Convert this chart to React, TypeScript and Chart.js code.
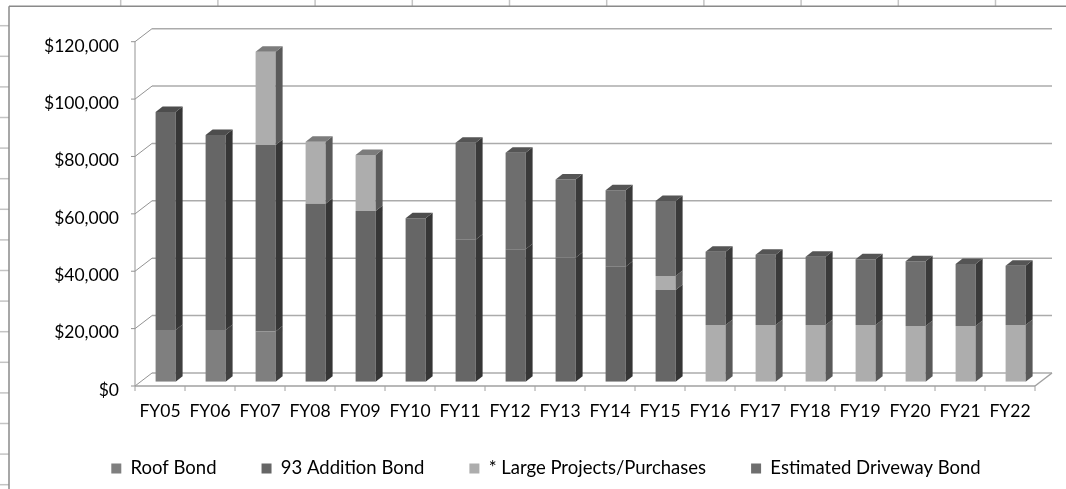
import React, { useEffect, useRef } from 'react';
import { Chart, registerables } from 'chart.js';

Chart.register(...registerables);

// ---------- data ----------
const categories = ['FY05', 'FY06', 'FY07', 'FY08', 'FY09', 'FY10', 'FY11', 'FY12', 'FY13', 'FY14', 'FY15', 'FY16', 'FY17', 'FY18', 'FY19', 'FY20', 'FY21', 'FY22'];
const seriesNames = ['Roof Bond', '93 Addition Bond', '* Large Projects/Purchases', 'Estimated Driveway Bond'];
const roofBond = [18000, 18000, 17500, 0, 0, 0, 0, 0, 0, 0, 0, 0, 0, 0, 0, 0, 0, 0];
const addition93Bond = [76000, 68000, 65000, 62000, 59500, 57000, 49500, 46200, 43200, 40100, 32000, 0, 0, 0, 0, 0, 0, 0];
const largeProjects = [0, 0, 32500, 21600, 19500, 0, 0, 0, 0, 0, 4800, 19800, 19800, 19800, 19800, 19400, 19400, 19800];
const drivewayBond = [0, 0, 0, 0, 0, 0, 33800, 33600, 27300, 26600, 26200, 25500, 24450, 23750, 22850, 22550, 21600, 20600];
const yTicks = [0, 20000, 40000, 60000, 80000, 100000, 120000];

// ---------- styles ----------
const FONT = 'Lato';
const frontColors = ['#7f7f7f', '#666666', '#adadad', '#6e6e6e'];
const sideColors = ['#404040', '#363636', '#5a5a5a', '#3a3a3a'];
const topColors = ['#5c5c5c', '#4d4d4d', '#7c7c7c', '#555555'];

// 3D offsets relative to the bar plane
const FRONT_DX = -5.6;
const FRONT_DY = 4.3;
const BACK_DX = 11.4;
const BACK_DY = -8.7;
const BAR_DX = 7;
const BAR_DY = 5.5;

const seriesValues = [roofBond, addition93Bond, largeProjects, drivewayBond];

function line(ctx: CanvasRenderingContext2D, x1: number, y1: number, x2: number, y2: number) {
  ctx.beginPath();
  ctx.moveTo(x1, y1);
  ctx.lineTo(x2, y2);
  ctx.stroke();
}

function poly(ctx: CanvasRenderingContext2D, pts: number[][]) {
  ctx.beginPath();
  ctx.moveTo(pts[0][0], pts[0][1]);
  for (let i = 1; i < pts.length; i++) ctx.lineTo(pts[i][0], pts[i][1]);
  ctx.closePath();
  ctx.fill();
}

const legendPlacePlugin = {
  id: 'legendPlace',
  afterLayout(chart: any) {
    const lg = chart.legend;
    if (!lg) return;
    lg.left = 51.4;
    lg.top = 414.25;
    lg.bottom = chart.height;
    lg.height = lg.bottom - lg.top;
    lg.width = lg.right - lg.left;
  },
};

const sheetPlugin = {
  id: 'sheetBackground',
  beforeDraw(chart: any) {
    const ctx: CanvasRenderingContext2D = chart.ctx;
    const w = chart.width;
    const h = chart.height;
    ctx.save();
    ctx.fillStyle = '#ffffff';
    ctx.fillRect(0, 0, w, h);
    ctx.strokeStyle = '#c4c4c4';
    ctx.lineWidth = 1.5;
    for (let x = 120.7; x < w; x += 97.2) line(ctx, x, 0, x, 6);
    for (let y = 25.7; y < h; y += 30.6) line(ctx, 0, y, 9, y);
    ctx.strokeStyle = '#8a8a8a';
    ctx.lineWidth = 1.5;
    line(ctx, 9, 6.3, w, 6.3);
    line(ctx, 9, 6.3, 9, h);
    ctx.restore();
  },
};

const wallsPlugin = {
  id: 'walls3d',
  beforeDatasetsDraw(chart: any) {
    const ctx: CanvasRenderingContext2D = chart.ctx;
    const ys = chart.scales.y;
    const xs = chart.scales.x;
    const { left, right } = chart.chartArea;
    ctx.save();
    ctx.strokeStyle = '#ababab';
    ctx.lineWidth = 1.5;
    yTicks.forEach((v) => {
      const y = ys.getPixelForValue(v);
      line(ctx, left + BACK_DX, y + BACK_DY, right + BACK_DX, y + BACK_DY);
    });
    ctx.strokeStyle = '#939393';
    ctx.lineWidth = 1;
    yTicks.forEach((v) => {
      const y = ys.getPixelForValue(v);
      line(ctx, left + FRONT_DX, y + FRONT_DY, left + BACK_DX, y + BACK_DY);
      line(ctx, left + FRONT_DX - 4, y + FRONT_DY, left + FRONT_DX, y + FRONT_DY);
    });
    const yTop = ys.getPixelForValue(yTicks[yTicks.length - 1]);
    const y0 = ys.getPixelForValue(0);
    line(ctx, left + FRONT_DX, yTop + FRONT_DY, left + FRONT_DX, y0 + FRONT_DY);
    ctx.strokeStyle = '#a0a0a0';
    ctx.lineWidth = 1.5;
    line(ctx, left + FRONT_DX, y0 + FRONT_DY, right + FRONT_DX, y0 + FRONT_DY);
    line(ctx, right + FRONT_DX, y0 + FRONT_DY, right + BACK_DX, y0 + BACK_DY);
    ctx.lineWidth = 1;
    const step = xs.getPixelForValue(1) - xs.getPixelForValue(0);
    for (let i = 0; i <= categories.length; i++) {
      const x = xs.getPixelForValue(0) - step / 2 + i * step + FRONT_DX;
      line(ctx, x, y0 + FRONT_DY, x, y0 + FRONT_DY + 5);
    }
    ctx.restore();
  },
};

const barsPlugin = {
  id: 'bars3d',
  afterDatasetsDraw(chart: any) {
    const ctx: CanvasRenderingContext2D = chart.ctx;
    ctx.save();
    categories.forEach((_, i) => {
      let topDs = -1;
      seriesValues.forEach((vals, d) => {
        if (vals[i] > 0) topDs = d;
      });
      seriesValues.forEach((vals, d) => {
        if (!(vals[i] > 0)) return;
        const el = chart.getDatasetMeta(d).data[i];
        const { x, y, base, width } = el.getProps(['x', 'y', 'base', 'width'], true);
        const l = x - width / 2;
        const r = x + width / 2;
        ctx.fillStyle = sideColors[d];
        poly(ctx, [[r, y], [r + BAR_DX, y - BAR_DY], [r + BAR_DX, base - BAR_DY], [r, base]]);
        if (d === topDs) {
          ctx.fillStyle = topColors[d];
          poly(ctx, [[l, y], [l + BAR_DX, y - BAR_DY], [r + BAR_DX, y - BAR_DY], [r, y]]);
        }
      });
    });
    ctx.restore();
  },
};

export default function App() {
  const canvasRef = useRef<HTMLCanvasElement | null>(null);

  useEffect(() => {
    if (!canvasRef.current) return;
    const chart = new Chart(canvasRef.current, {
      type: 'bar',
      data: {
        labels: categories,
        datasets: seriesValues.map((vals, d) => ({
          label: seriesNames[d],
          data: vals,
          backgroundColor: frontColors[d],
          borderWidth: 0,
          categoryPercentage: 1,
          barPercentage: 0.4,
        })),
      },
      options: {
        animation: false,
        responsive: false,
        layout: { padding: { left: 0, right: 25.4, top: 37.4, bottom: 13.3 } },
        plugins: {
          tooltip: { enabled: false },
          legend: {
            position: 'bottom',
            maxHeight: 50,
            labels: {
              boxWidth: 10,
              boxHeight: 10,
              padding: 45,
              color: '#000',
              font: { family: FONT, size: 18.5 },
            },
          },
        },
        scales: {
          x: {
            stacked: true,
            grid: { display: false, drawTicks: false },
            border: { display: false },
            ticks: {
              color: '#000',
              font: { family: FONT, size: 17.5 },
              padding: 18.8,
              labelOffset: FRONT_DX,
              maxRotation: 0,
              autoSkip: false,
            },
            afterFit: (s: any) => {
              s.height = 44;
            },
          },
          y: {
            stacked: true,
            min: 0,
            max: 120000,
            grid: { display: false, drawTicks: false },
            border: { display: false },
            afterBuildTicks: (s: any) => {
              s.ticks = yTicks.map((v) => ({ value: v }));
            },
            ticks: {
              color: '#000',
              font: { family: FONT, size: 17.5 },
              padding: 21.6,
              labelOffset: 8.5,
              callback: (v: any) => '$' + Number(v).toLocaleString('en-US'),
            },
            afterFit: (s: any) => {
              s.width = 140.6;
            },
          },
        },
      },
      plugins: [legendPlacePlugin, sheetPlugin, wallsPlugin, barsPlugin],
    } as any);
    return () => chart.destroy();
  }, []);

  return (
    <div style={{ position: 'absolute', left: 0, top: 0, width: 1066, height: 489, background: '#fff' }}>
      <canvas ref={canvasRef} width={1066} height={489} style={{ display: 'block' }} />
    </div>
  );
}
